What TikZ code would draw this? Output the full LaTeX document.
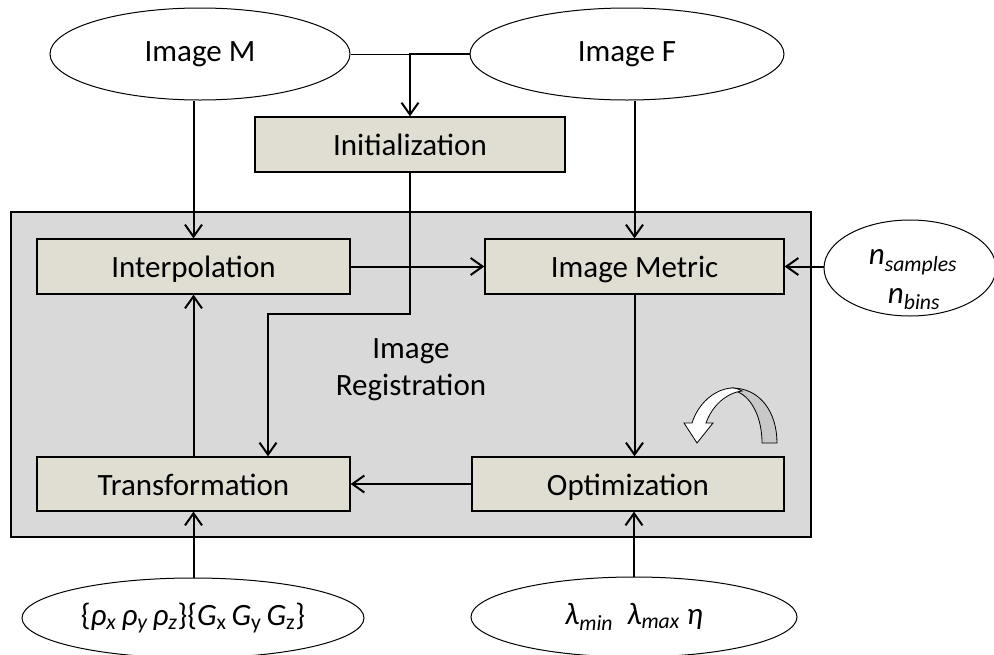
\documentclass[tikz,border=0pt]{standalone}
\usepackage{fontspec}
\setmainfont{Carlito}
\usetikzlibrary{arrows.meta,shapes.geometric,calc}
\definecolor{boxfill}{RGB}{224,221,211}
\definecolor{regfill}{RGB}{217,217,217}
\definecolor{backgray}{RGB}{200,200,200}
\tikzset{
  txt/.style={font=\fontsize{31}{37}\selectfont},
  procbox/.style={txt,draw,line width=1.3pt,fill=boxfill,minimum height=55pt,inner sep=0pt,text height=24pt,text depth=2pt},
  oval/.style={txt,ellipse,draw,line width=1pt,fill=white,inner sep=0pt},
  conn/.style={line width=2pt,-{Straight Barb[length=12pt,width=17pt,line width=2pt]}},
}
\begin{document}
\begin{tikzpicture}[x=1pt,y=-1pt]
\useasboundingbox (0,0) rectangle (994,654);
% registration frame
\node[draw,line width=1.3pt,fill=regfill,minimum width=800pt,minimum height=325pt,inner sep=0pt] (reg) at (411,374.5) {};
\node[txt,align=center] (regtxt) at (411,370) {Image\\Registration};
% inputs
\node[oval,minimum width=300pt,minimum height=92pt] (M) at (200,54) {Image M};
\node[oval,minimum width=314pt,minimum height=92pt] (F) at (627,54) {Image F};
\node[oval,minimum width=172pt,minimum height=96pt,align=center] (n) at (910,268) {};
\node[txt] (ns) at (913,262) {\itshape n\textsubscript{samples}};
\node[txt] (nb) at (914,299) {\itshape n\textsubscript{bins}};
\node[oval,minimum width=342pt,minimum height=80pt] (rho) at (193,618) {\{{\itshape ρ\textsubscript{x}\,ρ\textsubscript{y}\,ρ\textsubscript{z}}\}\{{\itshape G}\textsubscript{x}\,{\itshape G}\textsubscript{y}\,{\itshape G}\textsubscript{z}\}};
\node[oval,minimum width=326pt,minimum height=80pt] (lam) at (634,617) {{\itshape λ\textsubscript{min}\ \ λ\textsubscript{max}\ η}};
% process boxes
\node[procbox,minimum width=310pt] (init) at (410,144.5) {Initialization};
\node[procbox,minimum width=313pt] (interp) at (193.5,266.5) {Interpolation};
\node[procbox,minimum width=299pt] (metric) at (634.5,266.5) {Image Metric};
\node[procbox,minimum width=313pt,minimum height=54pt] (trans) at (193.5,484) {Transformation};
\node[procbox,minimum width=312pt,minimum height=54pt] (optim) at (628,484) {Optimization};
% connectors
\coordinate (j) at (init.north |- M.east);
\draw[line width=1pt] (M.east) -- (j);
\draw[conn] (F.west) -- (j) -- (init.north);
\draw[conn] (interp.north |- M.south) -- (interp.north);
\draw[conn] (metric.north |- F.south) -- (metric.north);
\coordinate (b1) at (410,314);
\coordinate (b2) at (268,314);
\draw[conn] (init.south) -- (b1) -- (b2) -- (b2 |- trans.north);
\draw[conn] (interp.east) -- (metric.west);
\draw[conn] (metric.south) -- (metric.south |- optim.north);
\draw[conn] (optim.west) -- (optim.west -| trans.east);
\draw[conn] (trans.north) -- (trans.north |- interp.south);
\draw[conn] (n.west |- metric.east) -- (metric.east);
\draw[conn] (trans.south |- rho.north) -- (trans.south);
\draw[conn] (lam.north) -- (lam.north |- optim.south);
% curved loop arrow
\draw[line width=0.8pt,fill=backgray] (732,388) .. controls (760,388) and (777,412) .. (777,443) -- (762,443) .. controls (762,418) and (752,398) .. (738,392) -- cycle;
\draw[line width=0.8pt,fill=white] (732,388) .. controls (714,389) and (698,404) .. (692,423) -- (684,423) -- (697,443) -- (713,423) -- (706,423) .. controls (712,406) and (726,393) .. (742,391) .. controls (739,389) and (736,388) .. (732,388) -- cycle;
\end{tikzpicture}
\end{document}
